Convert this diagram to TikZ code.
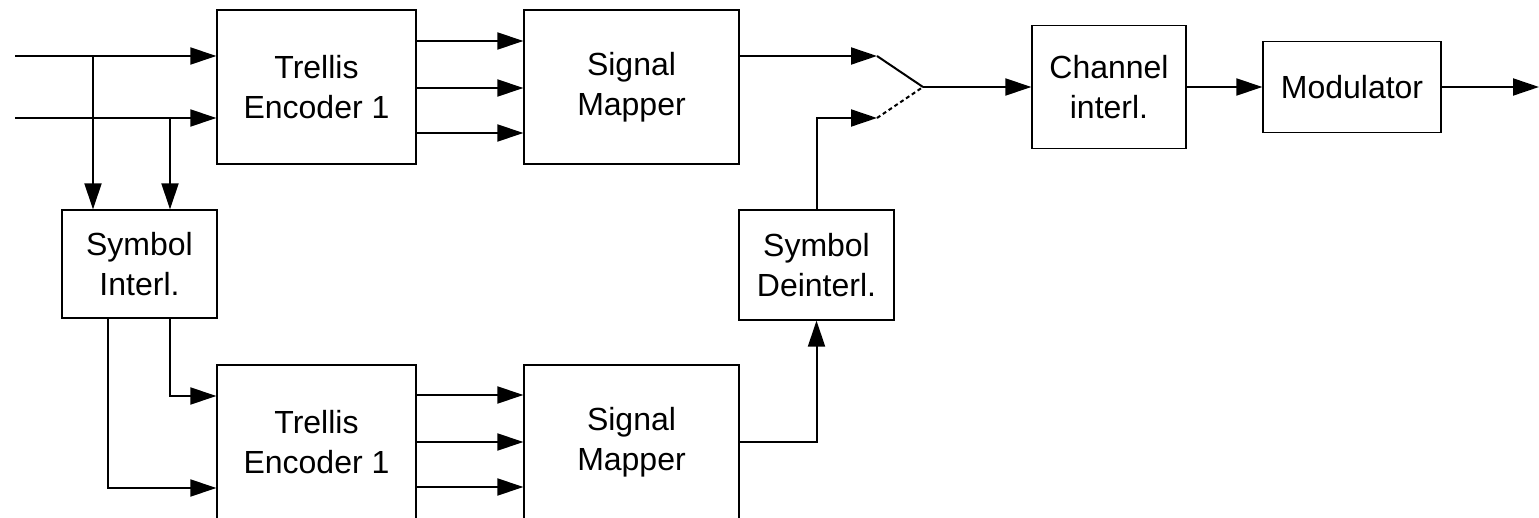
\documentclass[tikz,border=0pt]{standalone}
\usepackage{fontspec}
\setmainfont{Liberation Sans}
\usetikzlibrary{arrows.meta,calc}
\begin{document}
\begin{tikzpicture}[x=1pt,y=1pt,
  box/.style={draw, line width=1.3pt, inner sep=0pt, align=center,
    font=\fontsize{32}{40}\selectfont},
  conn/.style={line width=2pt},
  arr/.style={conn, -{Triangle[length=26pt,width=17pt]}},
  sw/.style={line width=2pt},
  swopen/.style={line width=2pt, dash pattern=on 4pt off 3pt}]
\useasboundingbox (0,0) rectangle (1539,-518);
\clip (0,0) rectangle (1539,-518);

% blocks
\node[box, minimum width=199pt, minimum height=154pt] (enc1) at (316.5,-87) {Trellis\\Encoder 1};
\node[box, minimum width=215pt, minimum height=154pt] (map1) at (631.5,-87) {Signal\\Mapper};
\node[box, minimum width=155pt, minimum height=108pt] (sint) at (139.5,-264) {Symbol\\Interl.};
\node[box, minimum width=199pt, minimum height=154pt] (enc2) at (316.5,-442) {Trellis\\Encoder 1};
\node[box, minimum width=215pt, minimum height=154pt] (map2) at (631.5,-442) {Signal\\Mapper};
\node[box, minimum width=155pt, minimum height=110pt] (sdei) at (816.5,-265) {Symbol\\Deinterl.};
\node[box, minimum width=154pt, minimum height=123pt] (chan) at (1109,-87) {Channel\\interl.};
\node[box, minimum width=178pt, minimum height=91pt] (mod) at (1352,-87) {Modulator};

% free ends and branch points
\coordinate (in1) at (15,-56);
\coordinate (in2) at (15,-118);
\coordinate (b1) at (93,-56);
\coordinate (b2) at (170,-118);
\coordinate (s1) at (108,0);
\coordinate (s2) at (170,0);
\coordinate (sw1) at (877,-56);
\coordinate (sw2) at (877,-118);
\coordinate (swo) at (923,-87);
\coordinate (out) at (1539,-87);

% inputs to the first encoder and to the symbol interleaver
\draw[arr] (in1) -- (enc1.west |- in1);
\draw[arr] (in2) -- (enc1.west |- in2);
\draw[arr] (b1) -- (b1 |- sint.north);
\draw[arr] (b2) -- (b2 |- sint.north);

% interleaver to the second encoder
\draw[arr] (sint.south -| s2) |- ($(enc2.west)+(0,46)$);
\draw[arr] (sint.south -| s1) |- ($(enc2.west)+(0,-46)$);

% encoder outputs to the mappers
\foreach \dy in {46,-1,-46}{
  \draw[arr] ($(enc1.east)+(0,\dy)$) -- ($(map1.west)+(0,\dy)$);
}
\foreach \dy in {47,0,-45}{
  \draw[arr] ($(enc2.east)+(0,\dy)$) -- ($(map2.west)+(0,\dy)$);
}

% lower branch through the deinterleaver
\draw[arr] (map2.east) -| (sdei.south);
\draw[arr] (sdei.north) |- (sw2);

% upper branch and switch
\draw[arr] (map1.east |- sw1) -- (sw1);
\draw[sw] (sw1) -- (swo);
\draw[swopen] (sw2) -- (swo);
\draw[arr] (swo) -- (chan.west);
\draw[arr] (chan.east) -- (mod.west);
\draw[arr] (mod.east) -- (out);
\end{tikzpicture}
\end{document}
